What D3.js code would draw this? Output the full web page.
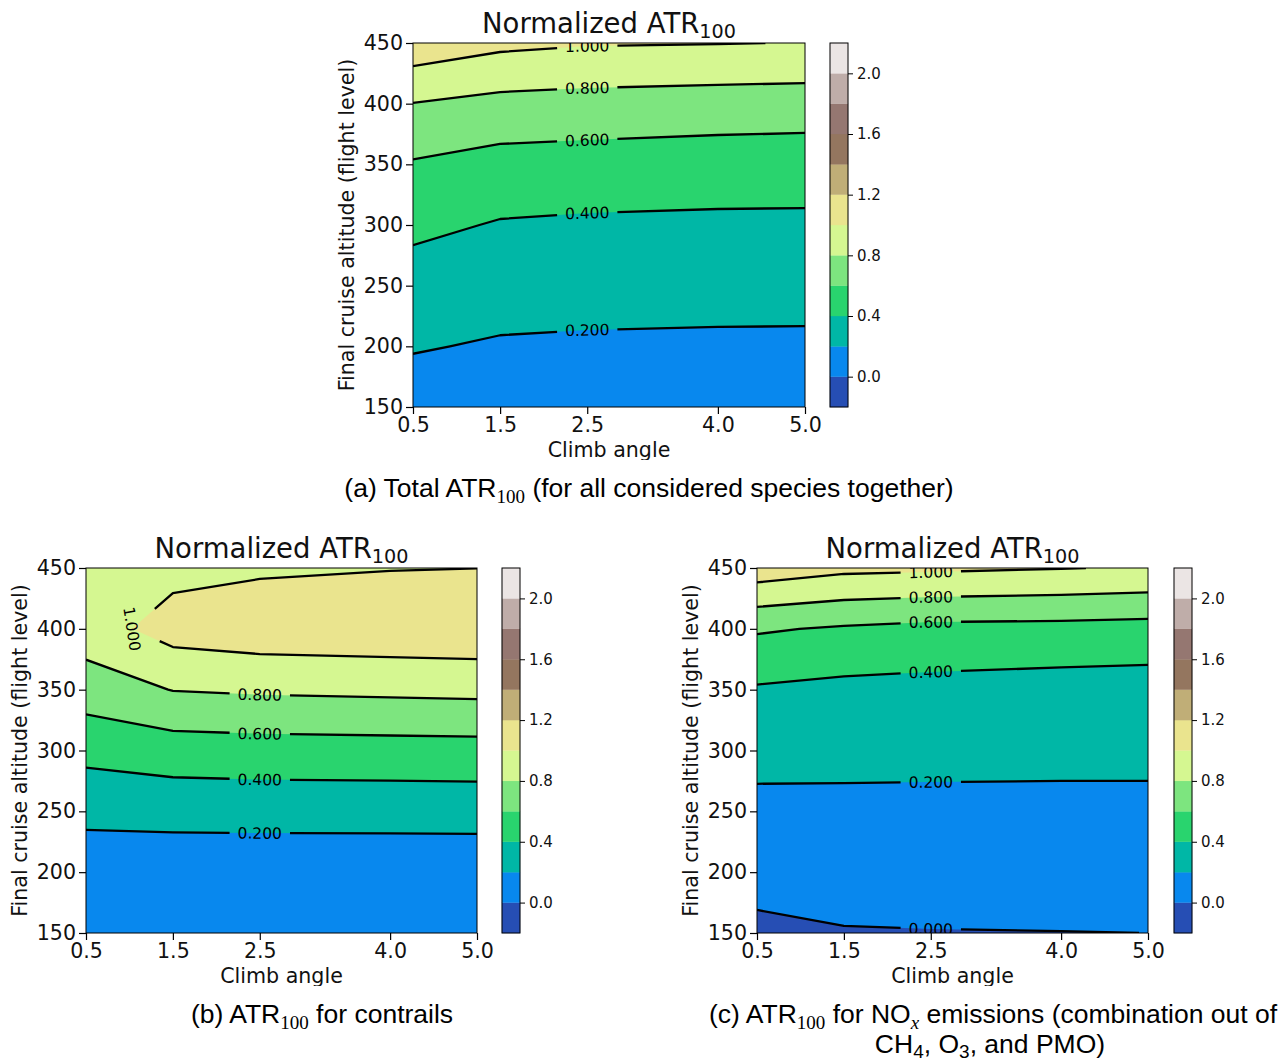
<!DOCTYPE html>
<html><head><meta charset="utf-8">
<script src="https://cdn.jsdelivr.net/npm/d3@7"></script>
<style>body{margin:0;background:#fff} svg{display:block}</style>
</head><body><svg id="chart" width="1283" height="1061"></svg>
<script>
// ---------------- data ----------------
const climbAngles = [0.5, 1.5, 2.5, 4.0, 5.0];
const flightLevels = [150, 200, 250, 300, 350, 400, 450];
const xTicks = [0.5, 1.5, 2.5, 4.0, 5.0];
const yTicks = [150, 200, 250, 300, 350, 400, 450];
const levels = [-0.2, 0.0, 0.2, 0.4, 0.6, 0.8, 1.0, 1.2, 1.4, 1.6, 1.8, 2.0, 2.2];
const cbarTicks = [0.0, 0.4, 0.8, 1.2, 1.6, 2.0];
// values per climb angle (rows) at each flight level (columns)
const atrTotal = [
  [0.100, 0.214, 0.310, 0.445, 0.583, 0.796, 1.125],
  [0.080, 0.181, 0.285, 0.386, 0.528, 0.742, 1.045],
  [0.070, 0.172, 0.276, 0.371, 0.517, 0.725, 1.0145],
  [0.065, 0.167, 0.270, 0.3645, 0.499, 0.708, 1.006],
  [0.063, 0.165, 0.270, 0.364, 0.493, 0.700, 0.995]
];
const atrContrails = [
  [0.030, 0.080, 0.253, 0.458, 0.697, 0.906, 0.950],
  [0.020, 0.068, 0.270, 0.502, 0.806, 1.083, 0.942],
  [0.020, 0.065, 0.275, 0.514, 0.826, 1.123, 0.973],
  [0.020, 0.065, 0.277, 0.521, 0.841, 1.138, 0.993],
  [0.020, 0.065, 0.279, 0.526, 0.850, 1.148, 0.999]
];
const atrNOx = [
  [-0.036, 0.059, 0.147, 0.264, 0.380, 0.621, 1.118],
  [-0.010, 0.075, 0.148, 0.260, 0.350, 0.578, 1.046],
  [-0.0055, 0.078, 0.148, 0.256, 0.340, 0.5455, 1.032],
  [-0.0026, 0.079, 0.147, 0.253, 0.320, 0.539, 1.006],
  [0.0003, 0.080, 0.147, 0.253, 0.315, 0.524, 0.985]
];

// ---------------- style / layout ----------------
const FONT = "'DejaVu Sans', sans-serif";
const terrainStops = [[0.00,[0.2,0.2,0.6]],[0.15,[0.0,0.6,1.0]],[0.25,[0.0,0.8,0.4]],[0.50,[1.0,1.0,0.6]],[0.75,[0.5,0.36,0.33]],[1.00,[1.0,1.0,1.0]]];
function terrain(t){
  const i = Math.max(0, Math.min(255, Math.floor(t*256)));
  const tt = i/255;
  let k = 0;
  while (k < terrainStops.length-2 && tt > terrainStops[k+1][0]) k++;
  const [t0,c0] = terrainStops[k], [t1,c1] = terrainStops[k+1];
  const f = (tt-t0)/(t1-t0);
  const c = c0.map((v,j)=> Math.round(255*(v + f*(c1[j]-v))));
  return `rgb(${c[0]},${c[1]},${c[2]})`;
}
function bandColor(k){
  const mid = (levels[k]+levels[k+1])/2;
  return terrain((mid-levels[0])/(levels[levels.length-1]-levels[0]));
}

const panels = [
  {id:'a', data: atrTotal, left:413, right:805, top:43, bottom:407, cbLeft:830, labelAt:2.5, tipLevels:[], fig:[320,0,580,460]},
  {id:'b', data: atrContrails, left:86, right:477, top:568, bottom:933, cbLeft:502, labelAt:2.5, tipLevels:[1.0], fig:[0,525,640,461]},
  {id:'c', data: atrNOx, left:757, right:1148, top:568, bottom:933, cbLeft:1174, labelAt:2.5, tipLevels:[], fig:[640,525,643,461]}
];

const svg = d3.select('#chart');
const defs = svg.append('defs');
svg.append('rect').attr('width',1283).attr('height',1061).attr('fill','#fff');

function idxToVal(arr, c){
  const n = arr.length;
  const k = Math.max(0, Math.min(n-1, c-0.5));
  const i0 = Math.min(n-2, Math.floor(k));
  const f = k - i0;
  return arr[i0] + f*(arr[i0+1]-arr[i0]);
}

function drawPanel(p){
  const nx = climbAngles.length, ny = flightLevels.length;
  const grid = [];
  for (let j=0;j<ny;j++) for (let i=0;i<nx;i++) grid.push(p.data[i][j]);
  const x = d3.scaleLinear().domain([climbAngles[0], climbAngles[nx-1]]).range([p.left, p.right]);
  const y = d3.scaleLinear().domain([flightLevels[0], flightLevels[ny-1]]).range([p.bottom, p.top]);
  const px = c => x(idxToVal(climbAngles, c));
  const py = c => y(idxToVal(flightLevels, c));

  defs.append('clipPath').attr('id','fig-'+p.id).append('rect')
    .attr('x',p.fig[0]).attr('y',p.fig[1]).attr('width',p.fig[2]).attr('height',p.fig[3]);
  defs.append('clipPath').attr('id','ax-'+p.id).append('rect')
    .attr('x',p.left).attr('y',p.top).attr('width',p.right-p.left).attr('height',p.bottom-p.top);

  const root = svg.append('g').attr('clip-path',`url(#fig-${p.id})`);
  const gen = d3.contours().size([nx, ny]);

  // filled bands
  const fillG = root.append('g').attr('clip-path',`url(#ax-${p.id})`);
  for (let k=0;k<levels.length-1;k++){
    const mp = gen.contour(grid, levels[k]);
    if (!mp.coordinates.length) continue;
    const d = mp.coordinates.map(poly => poly.map(ring =>
      'M' + ring.map(pt => px(pt[0]).toFixed(2)+','+py(pt[1]).toFixed(2)).join('L') + 'Z').join('')).join('');
    fillG.append('path').attr('d', d).attr('fill', bandColor(k)).attr('fill-rule','evenodd');
  }

  // isolines
  const lineG = root.append('g').attr('clip-path',`url(#ax-${p.id})`);
  const labelG = root.append('g').attr('clip-path',`url(#ax-${p.id})`);
  const eps = 1e-9;
  function ringToRuns(ring){
    const pts = ring.slice(0, ring.length-1).map(pt => {
      const ix = Math.max(0, Math.min(nx-1, pt[0]-0.5));
      const iy = Math.max(0, Math.min(ny-1, pt[1]-0.5));
      return {ix, iy, X: px(pt[0]), Y: py(pt[1])};
    });
    const n = pts.length;
    const side = q => ({l: q.ix<=eps, r: q.ix>=nx-1-eps, b: q.iy<=eps, t: q.iy>=ny-1-eps});
    const keep = [];
    for (let i=0;i<n;i++){
      const a = side(pts[i]), b = side(pts[(i+1)%n]);
      keep.push(!((a.l&&b.l)||(a.r&&b.r)||(a.b&&b.b)||(a.t&&b.t)));
    }
    const s = keep.indexOf(false);
    if (s < 0) return [pts.concat([pts[0]])];
    const runs = []; let cur = [];
    for (let m=1;m<=n;m++){
      const i = (s+m)%n;
      if (keep[i]){
        if (!cur.length) cur.push(pts[i]);
        cur.push(pts[(i+1)%n]);
      } else if (cur.length){ runs.push(cur); cur = []; }
    }
    if (cur.length) runs.push(cur);
    return runs;
  }
  function cumLen(run){
    const L=[0];
    for (let i=1;i<run.length;i++) L.push(L[i-1]+Math.hypot(run[i].X-run[i-1].X, run[i].Y-run[i-1].Y));
    return L;
  }
  function subRun(run, L, s0, s1){
    const out=[];
    const at = s => {
      let i=1; while (i<run.length-1 && L[i]<s) i++;
      const f = (s-L[i-1])/((L[i]-L[i-1])||1);
      return {X: run[i-1].X + f*(run[i].X-run[i-1].X), Y: run[i-1].Y + f*(run[i].Y-run[i-1].Y)};
    };
    if (s1 <= s0) return out;
    out.push(at(s0));
    for (let i=0;i<run.length;i++) if (L[i]>s0 && L[i]<s1) out.push(run[i]);
    out.push(at(s1));
    return out;
  }

  levels.forEach(lv => {
    const mp = gen.contour(grid, lv);
    let runs = [];
    mp.coordinates.forEach(poly => poly.forEach(ring => { runs = runs.concat(ringToRuns(ring)); }));
    if (!runs.length) return;
    let lab = null;
    if (p.tipLevels.includes(lv)){
      runs.forEach((run, ri) => {
        const L = cumLen(run);
        run.forEach((q, i) => { if (!lab || q.X < lab.X) lab = {ri, s: L[i], X: q.X, Y: q.Y, ang: 81}; });
      });
    } else {
      const lx = x(p.labelAt);
      runs.forEach((run, ri) => {
        if (lab) return;
        const L = cumLen(run);
        for (let i=1;i<run.length;i++){
          const a = run[i-1], b = run[i];
          if ((a.X-lx)*(b.X-lx) <= 0 && a.X !== b.X){
            const f = (lx-a.X)/(b.X-a.X);
            let ang = Math.atan2(b.Y-a.Y, b.X-a.X)*180/Math.PI;
            if (ang > 90) ang -= 180; if (ang < -90) ang += 180;
            lab = {ri, s: L[i-1] + f*(L[i]-L[i-1]), X: lx, Y: a.Y + f*(b.Y-a.Y), ang};
            break;
          }
        }
      });
    }
    let pieces = runs;
    if (lab){
      const t = labelG.append('text')
        .attr('transform', `translate(${lab.X},${lab.Y}) rotate(${lab.ang})`)
        .attr('text-anchor','middle').attr('dy','0.36em')
        .style('font-family', FONT).style('font-size','15.5px').attr('fill','#000')
        .text(d3.format('.3f')(lv));
      const half = t.node().getComputedTextLength()/2 + 8;
      pieces = [];
      runs.forEach((run, ri) => {
        if (ri !== lab.ri){ pieces.push(run); return; }
        const L = cumLen(run), tot = L[L.length-1];
        const a = subRun(run, L, 0, lab.s-half);
        const b = subRun(run, L, lab.s+half, tot);
        if (a.length) pieces.push(a);
        if (b.length) pieces.push(b);
      });
    }
    pieces.forEach(run => {
      lineG.append('path')
        .attr('d', 'M' + run.map(q => q.X.toFixed(2)+','+q.Y.toFixed(2)).join('L'))
        .attr('fill','none').attr('stroke','#000').attr('stroke-width',2.3)
        .attr('stroke-linejoin','round');
    });
  });

  // frame
  root.append('rect').attr('x',p.left).attr('y',p.top).attr('width',p.right-p.left).attr('height',p.bottom-p.top)
    .attr('fill','none').attr('stroke','#000').attr('stroke-width',1);

  // axes
  const xAxis = root.append('g').attr('transform',`translate(0,${p.bottom})`)
    .call(d3.axisBottom(x).tickValues(xTicks).tickFormat(d3.format('.1f')).tickSize(7).tickPadding(3).tickSizeOuter(0));
  const yAxis = root.append('g').attr('transform',`translate(${p.left},0)`)
    .call(d3.axisLeft(y).tickValues(yTicks).tickFormat(d3.format('d')).tickSize(7).tickPadding(3).tickSizeOuter(0));
  [xAxis, yAxis].forEach(a => {
    a.select('.domain').remove();
    a.selectAll('line').attr('stroke','#000').attr('stroke-width',1.2);
    a.selectAll('text').style('font-family', FONT).style('font-size','20.6px').attr('fill','#111');
  });

  // axis labels
  root.append('text').attr('x',(p.left+p.right)/2).attr('y',p.bottom+50)
    .attr('text-anchor','middle').style('font-family',FONT).style('font-size','20.6px').attr('fill','#111')
    .text('Climb angle');
  root.append('text').attr('transform',`translate(${p.left-59},${(p.top+p.bottom)/2}) rotate(-90)`)
    .attr('text-anchor','middle').style('font-family',FONT).style('font-size','20.6px').attr('fill','#111')
    .text('Final cruise altitude (flight level)');

  // title
  const title = root.append('text').attr('x',(p.left+p.right)/2).attr('y',p.top-10)
    .attr('text-anchor','middle').style('font-family',FONT).style('font-size','27.5px').attr('fill','#111');
  title.append('tspan').text('Normalized ATR');
  title.append('tspan').attr('dy',4.5).style('font-size','19.2px').text('100');

  // colorbar
  const cbW = 18;
  const cy = d3.scaleLinear().domain([levels[0], levels[levels.length-1]]).range([p.bottom, p.top]);
  const cb = root.append('g');
  for (let k=0;k<levels.length-1;k++){
    cb.append('rect').attr('x',p.cbLeft).attr('y',cy(levels[k+1])).attr('width',cbW)
      .attr('height',cy(levels[k])-cy(levels[k+1])).attr('fill',bandColor(k)).attr('stroke',bandColor(k)).attr('stroke-width',0.3);
  }
  cb.append('rect').attr('x',p.cbLeft).attr('y',p.top).attr('width',cbW).attr('height',p.bottom-p.top)
    .attr('fill','none').attr('stroke','#000').attr('stroke-width',1);
  const cAxis = cb.append('g').attr('transform',`translate(${p.cbLeft+cbW},0)`)
    .call(d3.axisRight(cy).tickValues(cbarTicks).tickFormat(d3.format('.1f')).tickSize(5).tickPadding(4).tickSizeOuter(0));
  cAxis.select('.domain').remove();
  cAxis.selectAll('line').attr('stroke','#000').attr('stroke-width',1);
  cAxis.selectAll('text').style('font-family',FONT).style('font-size','15px').attr('fill','#111');
}

panels.forEach(drawPanel);

// ---------------- captions ----------------
const CAP = "'Liberation Sans', Arial, sans-serif";
const SER = "'Liberation Serif', 'Times New Roman', serif";
function caption(xc, yb, parts, subShift){
  const t = svg.append('text').attr('x',xc).attr('y',yb).attr('text-anchor','middle')
    .style('font-family',CAP).style('font-size','26.5px').attr('fill','#000');
  let shift = 0;
  parts.forEach(pt => {
    const s = t.append('tspan').text(pt.t);
    const target = pt.sub ? subShift : 0;
    if (target !== shift){ s.attr('dy', target-shift); shift = target; }
    if (pt.sub){ s.style('font-size', '19px'); if (pt.serif) s.style('font-family', SER); if (pt.it) s.style('font-style','italic'); }
  });
}
caption(649, 497, [{t:'(a) Total ATR'},{t:'100',sub:true,serif:true},{t:' (for all considered species together)'}], 6);
caption(322, 1023, [{t:'(b) ATR'},{t:'100',sub:true,serif:true},{t:' for contrails'}], 6);
caption(993, 1023, [{t:'(c) ATR'},{t:'100',sub:true,serif:true},{t:' for NO'},{t:'x',sub:true,serif:true,it:true},{t:' emissions (combination out of'}], 6);
caption(990, 1053, [{t:'CH'},{t:'4',sub:true},{t:', O'},{t:'3',sub:true},{t:', and PMO)'}], 5);
</script>
</body></html>
